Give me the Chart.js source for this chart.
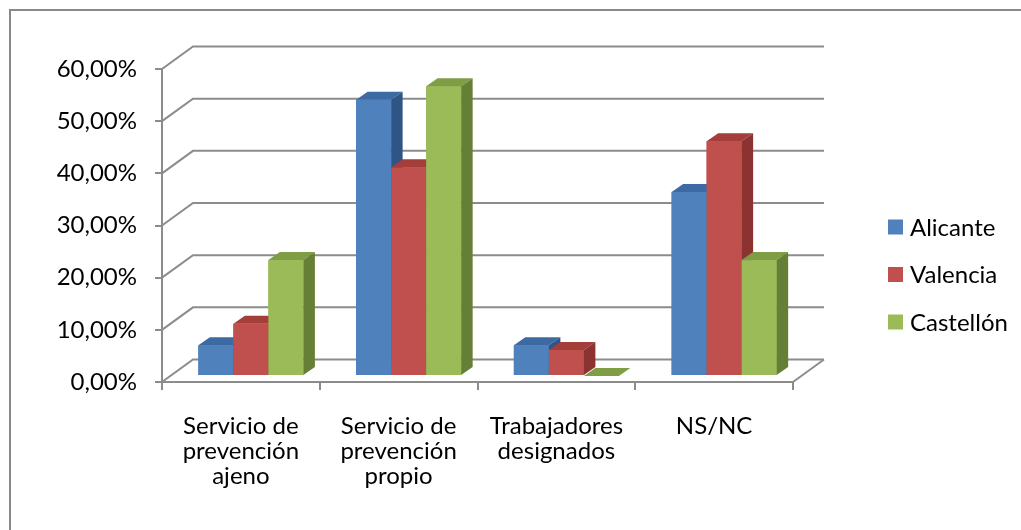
<!DOCTYPE html>
<html><head><meta charset="utf-8">
<script src="https://cdn.jsdelivr.net/npm/chart.js@4.4.1/dist/chart.umd.min.js"></script>
<style>html,body{margin:0;padding:0;background:#fff;}canvas{display:block}</style>
</head><body>
<canvas id="c" width="1021" height="530"></canvas>
<script>
// ---- data ----
const categories = [["Servicio de","prevención","ajeno"],["Servicio de","prevención","propio"],["Trabajadores","designados"],["NS/NC"]];
const seriesNames = ["Alicante","Valencia","Castellón"];
const alicante  = [5.88, 52.94, 5.88, 35.29];
const valencia  = [10.00, 40.00, 5.00, 45.00];
const castellon = [22.22, 55.56, 0.00, 22.22];
const yTicks = [0, 10, 20, 30, 40, 50, 60];

// ---- styles ----
const frontColors = ["#4F81BD", "#C0504D", "#9BBB59"];
const topColors   = ["#3D6AA2", "#A33E3B", "#7F9D45"];
const sideColors  = ["#2F5486", "#8A3331", "#667F36"];
const GRID = "#8C8C8C";
const FONT = "Lato";
const WALL = {dx: 31, dy: -22.5};      // depth of floor / side wall
const SHIFT = {dx: 10, dy: -6};        // bar front plane offset
const DEPTH = {dx: 11.5, dy: -8};      // bar depth

const excel3d = {
  id: "excel3d",
  beforeDraw(chart) {
    const ctx = chart.ctx;
    ctx.save();
    ctx.fillStyle = "#fff";
    ctx.fillRect(0, 0, chart.width, chart.height);
    ctx.strokeStyle = "#898989";
    ctx.lineWidth = 2;
    ctx.beginPath();
    ctx.moveTo(10, chart.height);
    ctx.lineTo(10, 10);
    ctx.lineTo(chart.width, 10);
    ctx.stroke();
    ctx.restore();
  },
  beforeDatasetsDraw(chart) {
    const {ctx, chartArea: a, scales: {y}} = chart;
    ctx.save();
    ctx.strokeStyle = GRID;
    ctx.lineWidth = 2;
    yTicks.forEach(v => {
      const py = y.getPixelForValue(v);
      ctx.beginPath();
      ctx.moveTo(a.left, py);
      ctx.lineTo(a.left + WALL.dx, py + WALL.dy);
      ctx.lineTo(a.right + WALL.dx, py + WALL.dy);
      ctx.stroke();
    });
    const p0 = y.getPixelForValue(0);
    ctx.beginPath();
    ctx.moveTo(a.right, p0);
    ctx.lineTo(a.right + WALL.dx, p0 + WALL.dy);
    ctx.stroke();
    ctx.restore();
    ctx.save();
    ctx.translate(SHIFT.dx, SHIFT.dy);
  },
  afterDatasetsDraw(chart) {
    const ctx = chart.ctx;
    const bars = [];
    chart.data.datasets.forEach((ds, i) => {
      chart.getDatasetMeta(i).data.forEach(el => bars.push({el, i}));
    });
    bars.sort((p, q) => p.el.x - q.el.x);
    bars.forEach(({el, i}) => {
      const l = el.x - el.width / 2, r = el.x + el.width / 2;
      const t = el.y, b = el.base;
      ctx.fillStyle = frontColors[i];
      ctx.fillRect(l, t, r - l, b - t);
      ctx.fillStyle = topColors[i];
      ctx.beginPath();
      ctx.moveTo(l, t); ctx.lineTo(l + DEPTH.dx, t + DEPTH.dy);
      ctx.lineTo(r + DEPTH.dx, t + DEPTH.dy); ctx.lineTo(r, t); ctx.closePath();
      ctx.fill();
      ctx.fillStyle = sideColors[i];
      ctx.beginPath();
      ctx.moveTo(r, t); ctx.lineTo(r + DEPTH.dx, t + DEPTH.dy);
      ctx.lineTo(r + DEPTH.dx, b + DEPTH.dy); ctx.lineTo(r, b); ctx.closePath();
      ctx.fill();
    });
    ctx.restore();
  },
  afterDraw(chart) {
    const ctx = chart.ctx;
    ctx.save();
    ctx.font = "24px " + FONT;
    ctx.textBaseline = "middle";
    ctx.fillStyle = "#000";
    const ys = [227, 274.5, 322];
    chart.data.datasets.forEach((ds, i) => {
      ctx.fillStyle = ds.backgroundColor;
      ctx.fillRect(888, ys[i] - 7.5, 15, 15);
      ctx.fillStyle = "#000";
      ctx.fillText(ds.label, 910, ys[i] + 1);
    });
    ctx.restore();
  }
};

new Chart(document.getElementById("c"), {
  type: "bar",
  data: {
    labels: categories,
    datasets: [
      {label: seriesNames[0], data: alicante,  backgroundColor: frontColors[0]},
      {label: seriesNames[1], data: valencia,  backgroundColor: frontColors[1]},
      {label: seriesNames[2], data: castellon, backgroundColor: frontColors[2]}
    ]
  },
  options: {
    responsive: false,
    animation: false,
    events: [],
    layout: {padding: {top: 69, right: 228, left: 0, bottom: 0}},
    datasets: {bar: {categoryPercentage: 0.666, barPercentage: 1.0}},
    plugins: {legend: {display: false}, tooltip: {enabled: false}},
    scales: {
      x: {
        afterFit(s) { s.height = 148; },
        grid: {display: true, drawOnChartArea: false, drawTicks: true, tickLength: 8, color: GRID, lineWidth: 2, offset: true},
        border: {display: true, color: GRID, width: 2},
        ticks: {font: {family: FONT, size: 24, lineHeight: 25/24}, color: "#000", padding: 24, maxRotation: 0, autoSkip: false}
      },
      y: {
        min: 0, max: 60,
        afterFit(s) { s.width = 162; },
        grid: {display: true, drawOnChartArea: false, drawTicks: true, tickLength: 7, color: GRID, lineWidth: 2},
        border: {display: true, color: GRID, width: 2},
        ticks: {stepSize: 10, font: {family: FONT, size: 24}, color: "#000", padding: 18,
          callback: v => v.toFixed(2).replace(".", ",") + "%"}
      }
    }
  },
  plugins: [excel3d]
});
</script>
</body></html>
